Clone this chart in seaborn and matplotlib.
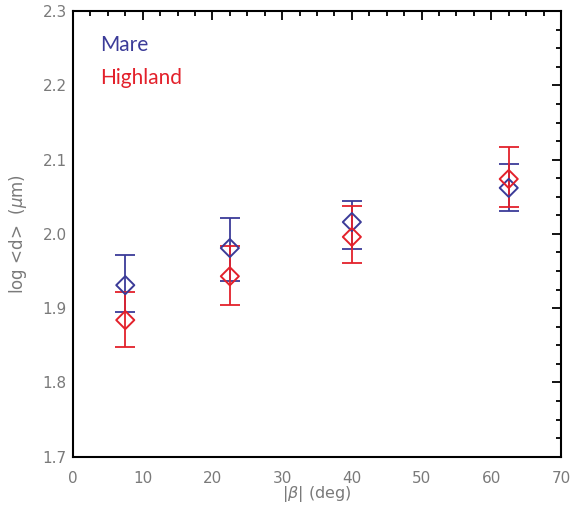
import matplotlib
matplotlib.use("Agg")
import matplotlib.pyplot as plt
from matplotlib.ticker import MultipleLocator, FormatStrFormatter
import seaborn as sns
import pandas as pd

# Data
beta = [7.5, 22.5, 40.0, 62.5]
mare_mean = [1.931, 1.981, 2.016, 2.062]
mare_lo = [1.895, 1.937, 1.980, 2.031]
mare_hi = [1.971, 2.021, 2.044, 2.094]
high_mean = [1.884, 1.943, 1.996, 2.074]
high_lo = [1.848, 1.904, 1.961, 2.036]
high_hi = [1.922, 1.984, 2.037, 2.117]

blue = "#3b3b98"
red = "#e3212b"
gray = "#7a7a7a"

sns.set_theme(style="white")
plt.rcParams["font.family"] = ["DejaVu Sans"]

fig = plt.figure(figsize=(5.76, 5.08), dpi=100)
ax = fig.add_axes([0.1267, 0.101, 0.974 - 0.1267, 0.978 - 0.101])

series = [
    ("Mare", mare_mean, mare_lo, mare_hi, blue),
    ("Highland", high_mean, high_lo, high_hi, red),
]
for name, m, lo, hi, c in series:
    df = pd.DataFrame({"beta": beta, "logd": m})
    yerr = [[mi - l for mi, l in zip(m, lo)], [h - mi for mi, h in zip(m, hi)]]
    ax.errorbar(beta, m, yerr=yerr, fmt="none", ecolor=c, elinewidth=1.3,
                capsize=7, capthick=1.3, zorder=2)
    sns.scatterplot(data=df, x="beta", y="logd", marker="D", s=85,
                    facecolor="none", edgecolor=c, linewidth=1.4, ax=ax, zorder=3)

ax.set_xlim(0, 70)
ax.set_ylim(1.7, 2.3)
ax.xaxis.set_major_locator(MultipleLocator(10))
ax.xaxis.set_minor_locator(MultipleLocator(2.5))
ax.yaxis.set_major_locator(MultipleLocator(0.1))
ax.yaxis.set_minor_locator(MultipleLocator(0.025))
ax.xaxis.set_major_formatter(FormatStrFormatter("%d"))
ax.yaxis.set_major_formatter(FormatStrFormatter("%.1f"))

ax.tick_params(which="both", direction="in", top=True, right=True,
               color="black", width=1.3, labelcolor=gray, labelsize=11)
ax.tick_params(which="major", length=6.5)
ax.tick_params(which="minor", length=3.3)
ax.tick_params(axis="x", which="major", pad=10)
ax.tick_params(axis="y", which="major", pad=4.5)
for s in ax.spines.values():
    s.set_color("black")
    s.set_linewidth(1.5)

ax.set_xlabel(r"$|\beta|$ (deg)", color=gray, fontsize=11.5, labelpad=-1)
ax.set_ylabel(r"log <d>  ($\mu$m)", color=gray, fontsize=12, labelpad=10)

ax.text(0.055, 0.925, "Mare", transform=ax.transAxes, color=blue,
        fontsize=15, family=["Lato", "DejaVu Sans"], va="center", ha="left")
ax.text(0.055, 0.851, "Highland", transform=ax.transAxes, color=red,
        fontsize=15, family=["Lato", "DejaVu Sans"], va="center", ha="left")

fig.savefig("out.png", dpi=100)
